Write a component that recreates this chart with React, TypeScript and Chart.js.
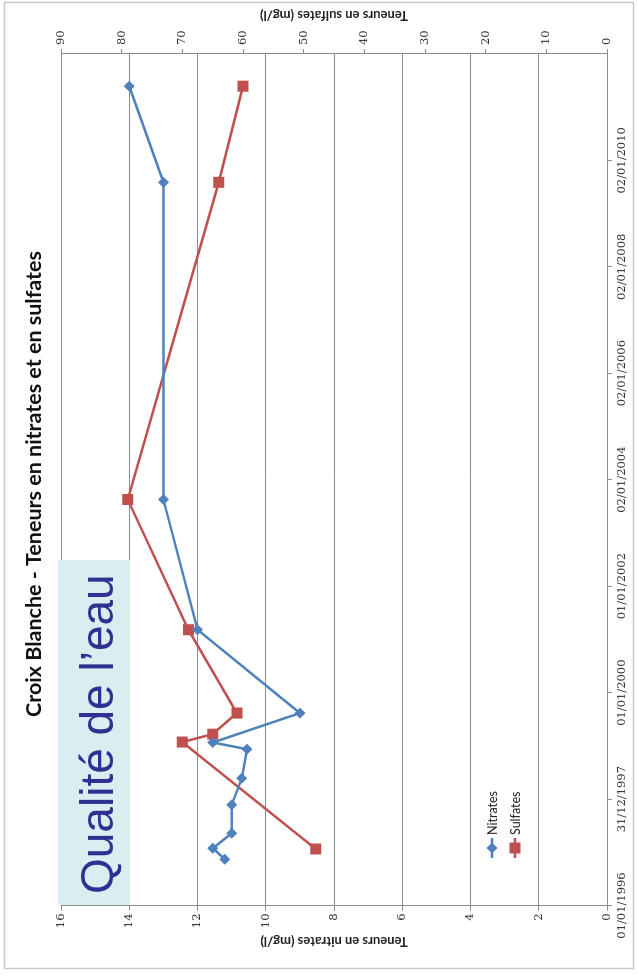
import React, { useEffect, useRef } from "react";
import { Chart, registerables } from "chart.js";

Chart.register(...registerables);

// ---------- data ----------
const startDate = "1996-01-01";
const axisEndDate = "2012-01-02";

const nitrateDates = [
  "1996-11-13", "1997-01-28", "1997-05-11", "1997-11-22", "1998-05-24", "1998-12-09",
  "1999-01-24", "1999-08-14", "2001-03-08", "2003-08-19", "2009-08-04", "2011-05-26",
];
const nitrateValues = [11.2, 11.55, 11.0, 11.0, 10.7, 10.55, 11.55, 9.0, 12.0, 13.0, 13.0, 14.0];

const sulfateDates = [
  "1997-01-23", "1999-01-27", "1999-03-22", "1999-08-14", "2001-03-08", "2003-08-19",
  "2009-08-04", "2011-05-26",
];
const sulfateValues = [48, 70, 65, 61, 69, 79, 64, 60];

const dateTickDates = [
  "1996-01-01", "1997-12-31", "2000-01-01", "2002-01-01",
  "2004-01-02", "2006-01-02", "2008-01-02", "2010-01-02",
];
const dateTickLabels = [
  "01/01/1996", "31/12/1997", "01/01/2000", "01/01/2002",
  "02/01/2004", "02/01/2006", "02/01/2008", "02/01/2010",
];

const seriesNames = ["Nitrates", "Sulfates"];
const titleText = "Croix Blanche - Teneurs en nitrates et en sulfates";
const nitrateAxisTitle = "Teneurs en nitrates (mg/l)";
const sulfateAxisTitle = "Teneurs en sulfates (mg/l)";
const overlayText = "Qualité de l’eau";

// ---------- helpers ----------
const W = 976;
const H = 638;
const BLUE = "#4f81bd";
const RED = "#c0504d";
const GRID = "#8c8c8c";

function dayOf(s: string): number {
  const [y, m, d] = s.split("-").map(Number);
  const [y0, m0, d0] = startDate.split("-").map(Number);
  return (Date.UTC(y, m - 1, d) - Date.UTC(y0, m0 - 1, d0)) / 86400000;
}

function marker(ctx: CanvasRenderingContext2D, style: string, x: number, y: number, r: number, color: string) {
  ctx.save();
  ctx.fillStyle = color;
  ctx.beginPath();
  if (style === "rectRot") {
    ctx.moveTo(x, y - r);
    ctx.lineTo(x + r, y);
    ctx.lineTo(x, y + r);
    ctx.lineTo(x - r, y);
  } else {
    const s = r * Math.SQRT1_2;
    ctx.rect(x - s, y - s, 2 * s, 2 * s);
  }
  ctx.closePath();
  ctx.fill();
  ctx.restore();
}

const decorPlugin = {
  id: "decor",
  beforeDraw(chart: any) {
    const ctx = chart.ctx as CanvasRenderingContext2D;
    ctx.save();
    ctx.fillStyle = "#ffffff";
    ctx.fillRect(0, 0, W, H);
    ctx.strokeStyle = "#c8c8c8";
    ctx.lineWidth = 1.5;
    ctx.strokeRect(7.5, 4.5, 966, 629);
    ctx.restore();
  },
  afterDraw(chart: any) {
    const ctx = chart.ctx as CanvasRenderingContext2D;
    const area = chart.chartArea;
    ctx.save();
    // title
    ctx.fillStyle = "#111111";
    ctx.font = "bold 21.5px Lato";
    ctx.textAlign = "center";
    ctx.textBaseline = "middle";
    ctx.fillText(titleText, 492, 34);

    // axis titles (both read bottom-to-top)
    const midV = (area.top + area.bottom) / 2;
    ctx.font = "bold 13px Lato";
    ctx.fillStyle = "#222222";
    for (const [u, txt] of [[35, nitrateAxisTitle], [961, sulfateAxisTitle]] as [number, string][]) {
      ctx.save();
      ctx.translate(u, midV);
      ctx.rotate(-Math.PI / 2);
      ctx.fillText(txt, 0, 0);
      ctx.restore();
    }

    // legend
    const ds = chart.data.datasets;
    ctx.font = "12.5px Lato";
    ctx.textAlign = "left";
    ctx.textBaseline = "middle";
    ds.forEach((d: any, i: number) => {
      const v = 492 + 23 * i;
      ctx.strokeStyle = d.borderColor;
      ctx.lineWidth = 2.5;
      ctx.beginPath();
      ctx.moveTo(118, v);
      ctx.lineTo(138, v);
      ctx.stroke();
      marker(ctx, d.pointStyle, 128, v, d.pointRadius, d.backgroundColor);
      ctx.fillStyle = "#222222";
      ctx.fillText(d.label, 141, v + 0.5);
    });

    // overlay box
    ctx.fillStyle = "#daedf0";
    ctx.fillRect(71, 58, 345, 72);
    ctx.fillStyle = "#2e3192";
    ctx.font = "46px 'Liberation Sans'";
    ctx.textAlign = "left";
    ctx.textBaseline = "alphabetic";
    ctx.fillText(overlayText, 82, 113);
    ctx.restore();
  },
};

export default function App() {
  const canvasRef = useRef<HTMLCanvasElement | null>(null);

  useEffect(() => {
    const canvas = canvasRef.current;
    if (!canvas) return;
    const tickFont = { family: "'DejaVu Serif'", size: 11.5 };
    const chart = new Chart(canvas, {
      type: "line",
      data: {
        datasets: [
          {
            label: seriesNames[0],
            data: nitrateDates.map((d, i) => ({ x: dayOf(d), y: nitrateValues[i] })),
            borderColor: BLUE,
            backgroundColor: BLUE,
            borderWidth: 2.5,
            pointStyle: "rectRot",
            pointRadius: 5.5,
            pointBorderWidth: 0,
            yAxisID: "y",
            tension: 0,
          },
          {
            label: seriesNames[1],
            data: sulfateDates.map((d, i) => ({ x: dayOf(d), y: sulfateValues[i] })),
            borderColor: RED,
            backgroundColor: RED,
            borderWidth: 2.5,
            pointStyle: "rect",
            pointRadius: 7.8,
            pointBorderWidth: 0,
            yAxisID: "y2",
            tension: 0,
          },
        ],
      },
      options: {
        responsive: false,
        animation: false,
        devicePixelRatio: 1,
        layout: { padding: { top: 61, left: 0, right: 0, bottom: 0 } },
        plugins: {
          legend: { display: false },
          title: { display: false },
          tooltip: { enabled: false },
        },
        scales: {
          x: {
            type: "linear",
            position: "bottom",
            min: 0,
            max: dayOf(axisEndDate),
            afterBuildTicks: (scale: any) => {
              scale.ticks = dateTickDates.map((d) => ({ value: dayOf(d) }));
            },
            afterFit: (scale: any) => {
              scale.height = 31;
            },
            ticks: {
              autoSkip: false,
              maxRotation: 0,
              minRotation: 0,
              padding: 3,
              color: "#333333",
              font: tickFont,
              callback: (_v: any, i: number) => dateTickLabels[i],
            },
            grid: { drawOnChartArea: false, drawTicks: true, tickLength: 5, color: GRID },
            border: { display: true, color: GRID, width: 1 },
          },
          y: {
            type: "linear",
            position: "left",
            min: 0,
            max: 16,
            afterFit: (scale: any) => {
              scale.width = 70.5;
            },
            ticks: { stepSize: 2, padding: 3, color: "#333333", font: tickFont },
            grid: { drawOnChartArea: true, drawTicks: true, tickLength: 5, color: GRID, lineWidth: 1 },
            border: { display: true, color: GRID, width: 1 },
          },
          y2: {
            type: "linear",
            position: "right",
            min: 0,
            max: 90,
            afterFit: (scale: any) => {
              scale.width = 54;
            },
            ticks: { stepSize: 10, padding: 4, color: "#333333", font: tickFont },
            grid: { drawOnChartArea: false, drawTicks: true, tickLength: 5, color: GRID },
            border: { display: true, color: GRID, width: 1 },
          },
        },
      },
      plugins: [decorPlugin],
    } as any);
    return () => chart.destroy();
  }, []);

  return (
    <div
      style={{
        position: "absolute",
        left: 0,
        top: 0,
        width: 638,
        height: 976,
        overflow: "hidden",
        background: "#ffffff",
      }}
    >
      <div
        style={{
          position: "absolute",
          left: 0,
          top: 0,
          width: W,
          height: H,
          transformOrigin: "0 0",
          transform: `translate(0px, ${W}px) rotate(-90deg)`,
        }}
      >
        <canvas ref={canvasRef} width={W} height={H} style={{ display: "block", width: W, height: H }} />
      </div>
    </div>
  );
}
